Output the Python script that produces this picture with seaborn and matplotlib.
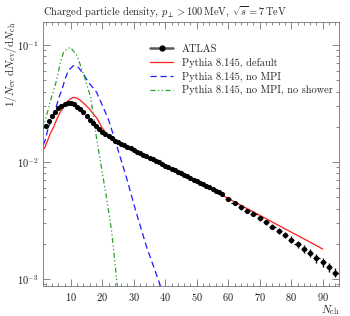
import numpy as np
import pandas as pd
import matplotlib
matplotlib.use("Agg")
import matplotlib.pyplot as plt
import seaborn as sns
from matplotlib.lines import Line2D
from matplotlib.ticker import MultipleLocator, LogLocator, NullFormatter

# ---------------- data ----------------
atlas_n = [2, 3, 4, 5, 6, 7, 8, 9, 10, 11, 12, 13, 14, 15, 16, 17, 18, 19, 20,
           21, 22, 23, 24, 25, 26, 27, 28, 29, 30, 31, 32, 33, 34, 35, 36, 37,
           38, 39, 40, 41, 42, 43, 44, 45, 46, 47, 48, 49, 50, 51, 52, 53, 54,
           55, 56, 57, 58,
           60, 62, 64, 66, 68, 70, 72, 74, 76, 78, 80, 82, 84, 86, 88, 90, 92, 94]
atlas_y = [0.0204, 0.0226, 0.0249, 0.0269, 0.0288, 0.0303, 0.0311, 0.0318, 0.0318,
           0.0311, 0.0297, 0.0284, 0.0266, 0.0246, 0.0229, 0.0214, 0.0202, 0.0191,
           0.0182, 0.0173, 0.0166, 0.0160, 0.0152, 0.01472, 0.01428, 0.01386,
           0.01344, 0.01304, 0.01264, 0.01226, 0.01189, 0.01153, 0.01118, 0.01085,
           0.01052, 0.01020, 0.00990, 0.00960, 0.00931, 0.00903, 0.00876, 0.00849,
           0.00824, 0.00799, 0.00775, 0.00752, 0.00729, 0.00707, 0.00686, 0.00665,
           0.00645, 0.00626, 0.00607, 0.00588, 0.00569, 0.00550, 0.00532,
           0.00482, 0.00447, 0.00410, 0.00381, 0.00360, 0.00331, 0.00305, 0.00280,
           0.00256, 0.00238, 0.00217, 0.00197, 0.00180, 0.00166, 0.00150, 0.00139,
           0.00126, 0.00113]
atlas_xerr = [0.5] * 57 + [1.0] * 18
atlas_relerr = [0.01] * 40 + [0.025] * 17 + [0.04, 0.04, 0.045, 0.045, 0.05, 0.05,
                                             0.055, 0.055, 0.06, 0.065, 0.07, 0.07,
                                             0.075, 0.08, 0.08, 0.085, 0.09, 0.09]

default_n = [1.3, 1.8, 2.4, 3.4, 4.5, 5.6, 6.6, 7.7, 8.7, 9.8, 10.8, 11.9, 12.9,
             14.0, 15.1, 16.1, 17.2, 18.3, 20.0, 22.0, 24.0, 25.0, 30.0, 35.0,
             40.0, 45.0, 50.0, 55.0, 60.0, 65.0, 70.0, 75.0, 80.0, 85.0, 90.0]
default_y = [0.0128, 0.0134, 0.0147, 0.0173, 0.0198, 0.0233, 0.0266, 0.0294,
             0.0324, 0.0345, 0.0357, 0.0353, 0.0339, 0.0319, 0.0299, 0.0280,
             0.0257, 0.0236, 0.0195, 0.0166, 0.0150, 0.0143, 0.01227, 0.01052,
             0.00904, 0.00776, 0.00672, 0.00577, 0.00487, 0.00412, 0.00350,
             0.00296, 0.00251, 0.00213, 0.00180]

nompi_n = [1.3, 1.8, 2.6, 3.7, 4.8, 5.8, 6.6, 7.1, 8.2, 9.2, 10.8, 12.4, 14.0,
           15.6, 18.2, 21.9, 24.1, 27.8, 30.4, 34.0, 38.6]
nompi_y = [0.0140, 0.0152, 0.0185, 0.0226, 0.0266, 0.0324, 0.0381, 0.0407,
           0.0512, 0.0603, 0.0666, 0.0644, 0.0565, 0.0480, 0.0394, 0.0233,
           0.0152, 0.00716, 0.0040, 0.00190, 0.00085]

noshower_n = [1.3, 1.8, 2.9, 3.4, 4.5, 5.6, 6.7, 7.7, 8.8, 9.9, 12.0, 13.1,
              14.2, 15.2, 16.3, 18.3, 19.8, 21.4, 23.0, 24.8]
noshower_y = [0.0190, 0.0226, 0.0284, 0.0324, 0.0407, 0.0512, 0.0711, 0.0866,
              0.0925, 0.0955, 0.0811, 0.0666, 0.0547, 0.0449, 0.0357, 0.0152,
              0.00871, 0.00483, 0.00251, 0.00086]

labels = ["ATLAS", "Pythia 8.145, default", "Pythia 8.145, no MPI",
          "Pythia 8.145, no MPI, no shower"]
title = r"Charged particle density, $p_\perp > 100\,\mathrm{MeV}$, $\sqrt{s} = 7\,\mathrm{TeV}$"

# ---------------- style ----------------
sns.set_style("ticks")
plt.rcParams.update({
    "font.family": "serif",
    "font.serif": ["cmr10", "DejaVu Serif"],
    "mathtext.fontset": "cm",
    "axes.formatter.use_mathtext": True,
    "font.size": 7.5,
    "axes.linewidth": 0.6,
    "axes.edgecolor": "0.45",
    "xtick.direction": "in",
    "ytick.direction": "in",
    "xtick.top": True,
    "ytick.right": True,
    "xtick.color": "0.45",
    "ytick.color": "0.45",
    "xtick.labelcolor": "0.1",
    "ytick.labelcolor": "0.1",
})

fig = plt.figure(figsize=(3.5, 3.16), dpi=100)
ax = fig.add_axes([0.124, 0.095, 0.845, 0.836])

df_def = pd.DataFrame({"n": default_n, "y": default_y})
df_nompi = pd.DataFrame({"n": nompi_n, "y": nompi_y})
df_nosh = pd.DataFrame({"n": noshower_n, "y": noshower_y})

sns.lineplot(data=df_def, x="n", y="y", ax=ax, color="#ff1a1a", lw=0.9,
             estimator=None, sort=False)
sns.lineplot(data=df_nompi, x="n", y="y", ax=ax, color="#1a1aff", lw=0.9,
             estimator=None, sort=False, linestyle=(0, (5, 3)))
sns.lineplot(data=df_nosh, x="n", y="y", ax=ax, color="#2ca02c", lw=0.9,
             estimator=None, sort=False, linestyle=(0, (4, 2, 1, 2, 1, 2)))

ay = np.array(atlas_y)
ax.errorbar(atlas_n, ay, xerr=atlas_xerr, yerr=ay * np.array(atlas_relerr),
            fmt="none", ecolor="black", elinewidth=1.0, capsize=0, zorder=4)
sns.scatterplot(x=atlas_n, y=atlas_y, ax=ax, color="black", s=14,
                edgecolor="black", linewidth=0, zorder=5)

ax.set_yscale("log")
ax.set_xlim(1.3, 95.2)
ax.set_ylim(0.00087, 0.158)

ax.xaxis.set_major_locator(MultipleLocator(10))
ax.xaxis.set_minor_locator(MultipleLocator(2))
ax.yaxis.set_major_locator(LogLocator(base=10))
ax.yaxis.set_minor_locator(LogLocator(base=10, subs=np.arange(2, 10)))
ax.yaxis.set_minor_formatter(NullFormatter())
ax.tick_params(which="major", length=5, width=0.6)
ax.tick_params(which="minor", length=2.5, width=0.6)

ax.set_xlabel(r"$N_\mathrm{ch}$", loc="right", fontsize=8)
ax.xaxis.set_label_coords(1.0, -0.066)
ax.set_ylabel(r"$1/N_\mathrm{ev}\ \mathrm{d}N_\mathrm{ev}/\mathrm{d}N_\mathrm{ch}$",
              loc="top", fontsize=8)
ax.yaxis.set_label_coords(-0.084, 1.0)
ax.set_title(title, loc="left", fontsize=7.5, pad=5)

handles = [
    Line2D([], [], color="0.35", lw=1.8, marker="o", mfc="black", mec="black", ms=3.5),
    Line2D([], [], color="#ff1a1a", lw=0.9),
    Line2D([], [], color="#1a1aff", lw=0.9, linestyle=(0, (5, 3))),
    Line2D([], [], color="#2ca02c", lw=0.9, linestyle=(0, (4, 2, 1, 2, 1, 2))),
]
ax.legend(handles, labels, loc="upper left", bbox_to_anchor=(0.348, 0.93),
          frameon=False, fontsize=7.5, handlelength=2.2, labelspacing=0.35,
          borderaxespad=0, handletextpad=0.8)

fig.savefig("out.png", dpi=100)
